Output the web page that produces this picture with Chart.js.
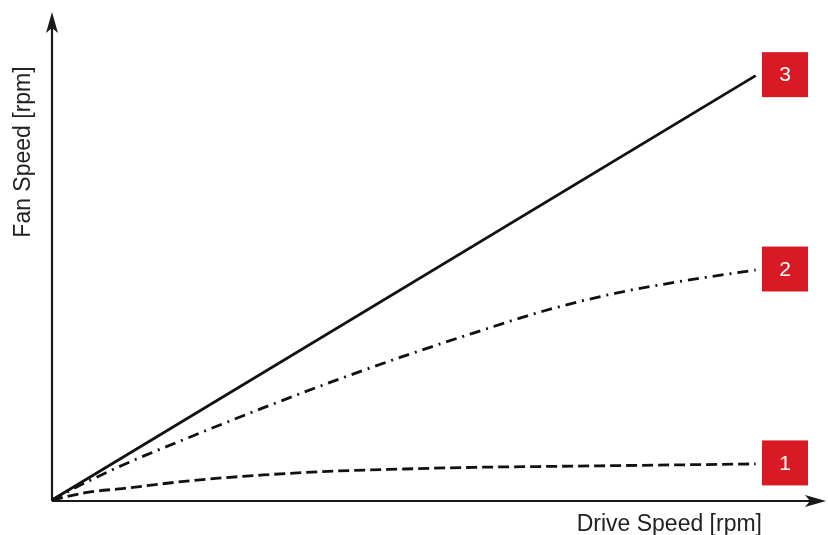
<!DOCTYPE html>
<html>
<head>
<meta charset="utf-8">
<script src="https://cdn.jsdelivr.net/npm/chart.js@4"></script>
<style>
  html, body { margin: 0; padding: 0; background: #fff; }
  canvas { display: block; }
</style>
</head>
<body>
<canvas id="fanChart" width="828" height="535"></canvas>
<script>
  // drive speed (x) sample points, shared by curves 1 and 2
  const driveSpeed = [0, 5, 10, 20, 30, 40, 50, 60, 70, 80, 90, 100];
  // curve 1 - dashed, almost flat
  const curve1 = [0, 1.8, 2.7, 4.6, 5.9, 6.8, 7.3, 7.7, 7.9, 8.1, 8.3, 8.5];
  // curve 2 - dash dot, bending over
  const curve2 = [0, 4.3, 8.2, 15.1, 21.7, 28.0, 33.9, 39.4, 44.6, 48.7, 51.7, 54.2];
  // curve 3 - straight line
  const driveSpeed3 = [0, 100];
  const curve3 = [0, 100];

  const curveTags = ['1', '2', '3'];
  const xTitle = 'Drive Speed [rpm]';
  const yTitle = 'Fan Speed [rpm]';

  const toPoints = (xs, ys) => xs.map((x, i) => ({ x: x, y: ys[i] }));

  // arrow axes + axis titles
  const axesPlugin = {
    id: 'arrowAxes',
    beforeDatasetsDraw(chart) {
      const { ctx, chartArea: a } = chart;
      ctx.save();
      ctx.strokeStyle = '#1a1a1a';
      ctx.fillStyle = '#1a1a1a';
      ctx.lineWidth = 2.2;
      ctx.beginPath();
      ctx.moveTo(a.left, a.bottom + 1);
      ctx.lineTo(a.left, a.top + 10);
      ctx.moveTo(a.left, a.bottom + 1);
      ctx.lineTo(a.right - 10, a.bottom + 1);
      ctx.stroke();

      // y arrowhead
      ctx.beginPath();
      ctx.moveTo(a.left, a.top);
      ctx.lineTo(a.left + 6, a.top + 21);
      ctx.lineTo(a.left, a.top + 16);
      ctx.lineTo(a.left - 6, a.top + 21);
      ctx.closePath();
      ctx.fill();
      // x arrowhead
      ctx.beginPath();
      ctx.moveTo(a.right, a.bottom + 1);
      ctx.lineTo(a.right - 21, a.bottom + 7);
      ctx.lineTo(a.right - 16, a.bottom + 1);
      ctx.lineTo(a.right - 21, a.bottom - 5);
      ctx.closePath();
      ctx.fill();

      ctx.fillStyle = '#222';
      ctx.font = '23px "Liberation Sans", Arial, sans-serif';
      ctx.textAlign = 'right';
      ctx.textBaseline = 'alphabetic';
      ctx.fillText(xTitle, 762, 531);

      ctx.translate(30, 152);
      ctx.rotate(-Math.PI / 2);
      ctx.textAlign = 'center';
      ctx.fillText(yTitle, 0, 0);
      ctx.restore();
    },
    afterDatasetsDraw(chart) {
      const { ctx } = chart;
      ctx.save();
      chart.data.datasets.forEach((ds, i) => {
        const pts = chart.getDatasetMeta(i).data;
        const last = pts[pts.length - 1];
        const bx = 762, bw = 46, bh = 45;
        const by = last.y - bh / 2 - 1;
        ctx.fillStyle = '#d71a24';
        ctx.fillRect(bx, by, bw, bh);
        ctx.fillStyle = '#fff';
        ctx.font = '21px "Liberation Sans", Arial, sans-serif';
        ctx.textAlign = 'center';
        ctx.textBaseline = 'middle';
        ctx.fillText(curveTags[i], bx + bw / 2, by + bh / 2 + 1);
      });
      ctx.restore();
    }
  };

  const baseLine = {
    borderColor: '#111',
    borderWidth: 2.8,
    pointRadius: 0,
    fill: false,
    clip: false,
    cubicInterpolationMode: 'monotone'
  };

  new Chart(document.getElementById('fanChart'), {
    type: 'line',
    data: {
      datasets: [
        Object.assign({}, baseLine, { label: curveTags[0], data: toPoints(driveSpeed, curve1), borderDash: [11, 5] }),
        Object.assign({}, baseLine, { label: curveTags[1], data: toPoints(driveSpeed, curve2), borderDash: [11, 6, 2, 6] }),
        Object.assign({}, baseLine, { label: curveTags[2], data: toPoints(driveSpeed3, curve3) })
      ]
    },
    options: {
      responsive: false,
      animation: false,
      layout: { padding: { left: 52, top: 12, right: 2, bottom: 35 } },
      scales: {
        x: { type: 'linear', min: 0, max: 110, display: false },
        y: { type: 'linear', min: 0, max: 115, display: false }
      },
      plugins: {
        legend: { display: false },
        tooltip: { enabled: false }
      }
    },
    plugins: [axesPlugin]
  });
</script>
</body>
</html>
